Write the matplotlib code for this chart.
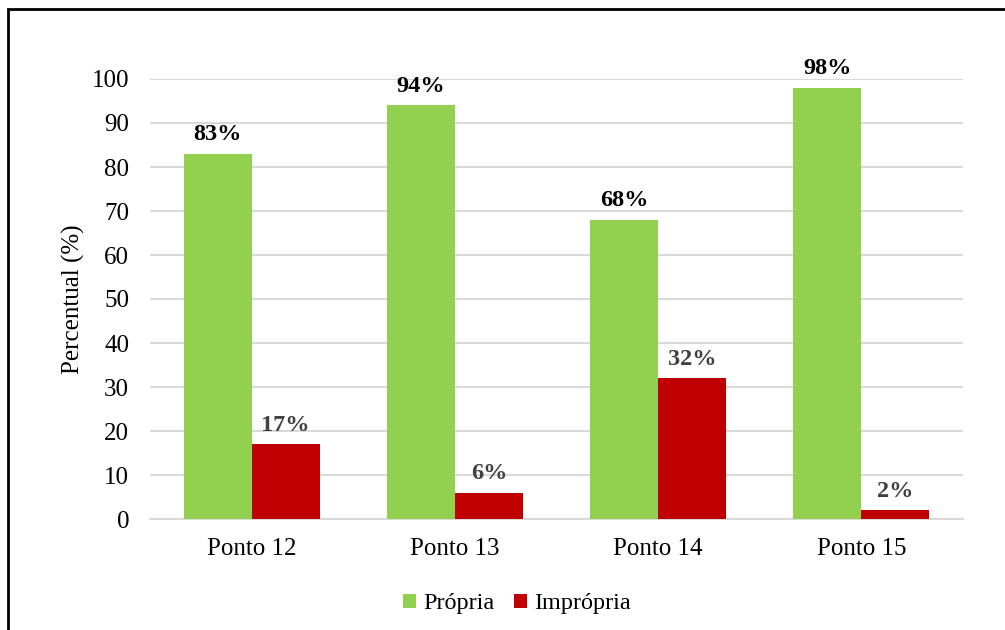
import matplotlib
matplotlib.use("Agg")
import matplotlib.pyplot as plt
import numpy as np
from matplotlib.patches import Rectangle

categories = ["Ponto 12", "Ponto 13", "Ponto 14", "Ponto 15"]
propria = [83, 94, 68, 98]
impropria = [17, 6, 32, 2]
y_ticks = [0, 10, 20, 30, 40, 50, 60, 70, 80, 90, 100]

plt.rcParams["font.family"] = ["Liberation Serif", "DejaVu Serif"]

W, H = 1005, 630
fig = plt.figure(figsize=(W / 100, H / 100), dpi=100)
ax = fig.add_axes([150 / W, 1 - 519 / H, (963 - 150) / W, (519 - 79) / H])

x = np.arange(len(categories))
bw = 0.335
green = "#92d050"
red = "#c00000"

bars_p = ax.bar(x - bw / 2, propria, bw, color=green, label="Própria", zorder=3)
bars_i = ax.bar(x + bw / 2, impropria, bw, color=red, label="Imprópria", zorder=3)

for b, v in zip(bars_p, propria):
    ax.annotate(f"{v}%", (b.get_x() + b.get_width() / 2, v), xytext=(0, 6),
                textcoords="offset points", ha="center", va="bottom",
                fontsize=17.5, fontweight="bold", color="black")
for b, v in zip(bars_i, impropria):
    ax.annotate(f"{v}%", (b.get_x() + b.get_width() / 2, v), xytext=(0, 6),
                textcoords="offset points", ha="center", va="bottom",
                fontsize=17.5, fontweight="bold", color="#404040")

ax.set_xlim(-0.5, len(categories) - 0.5)
ax.set_ylim(0, 100)
ax.set_yticks(y_ticks)
ax.set_xticks(x)
ax.set_xticklabels(categories)
ax.tick_params(axis="both", length=0, labelsize=18, colors="black")
ax.tick_params(axis="y", pad=15)
ax.tick_params(axis="x", pad=14)
ax.grid(axis="y", color="#d9d9d9", linewidth=1.5, zorder=0)
for s in ["top", "right", "left"]:
    ax.spines[s].set_visible(False)
ax.spines["bottom"].set_color("#d9d9d9")
ax.spines["bottom"].set_linewidth(1.5)
ax.set_ylabel("Percentual (%)", fontsize=18, labelpad=5)

fig.legend(loc="center", bbox_to_anchor=(517 / W, 1 - 604 / H), ncol=2,
           frameon=False, fontsize=17.5, handlelength=0.55, handleheight=0.55,
           handletextpad=0.3, columnspacing=0.8)

# outer frame
fig.patches.append(Rectangle((7.5 / W, -0.05), 1.1, 1 - 9.5 / H + 0.05,
                             transform=fig.transFigure, fill=False,
                             edgecolor="black", linewidth=2.0))

fig.savefig("out.png", dpi=100)
